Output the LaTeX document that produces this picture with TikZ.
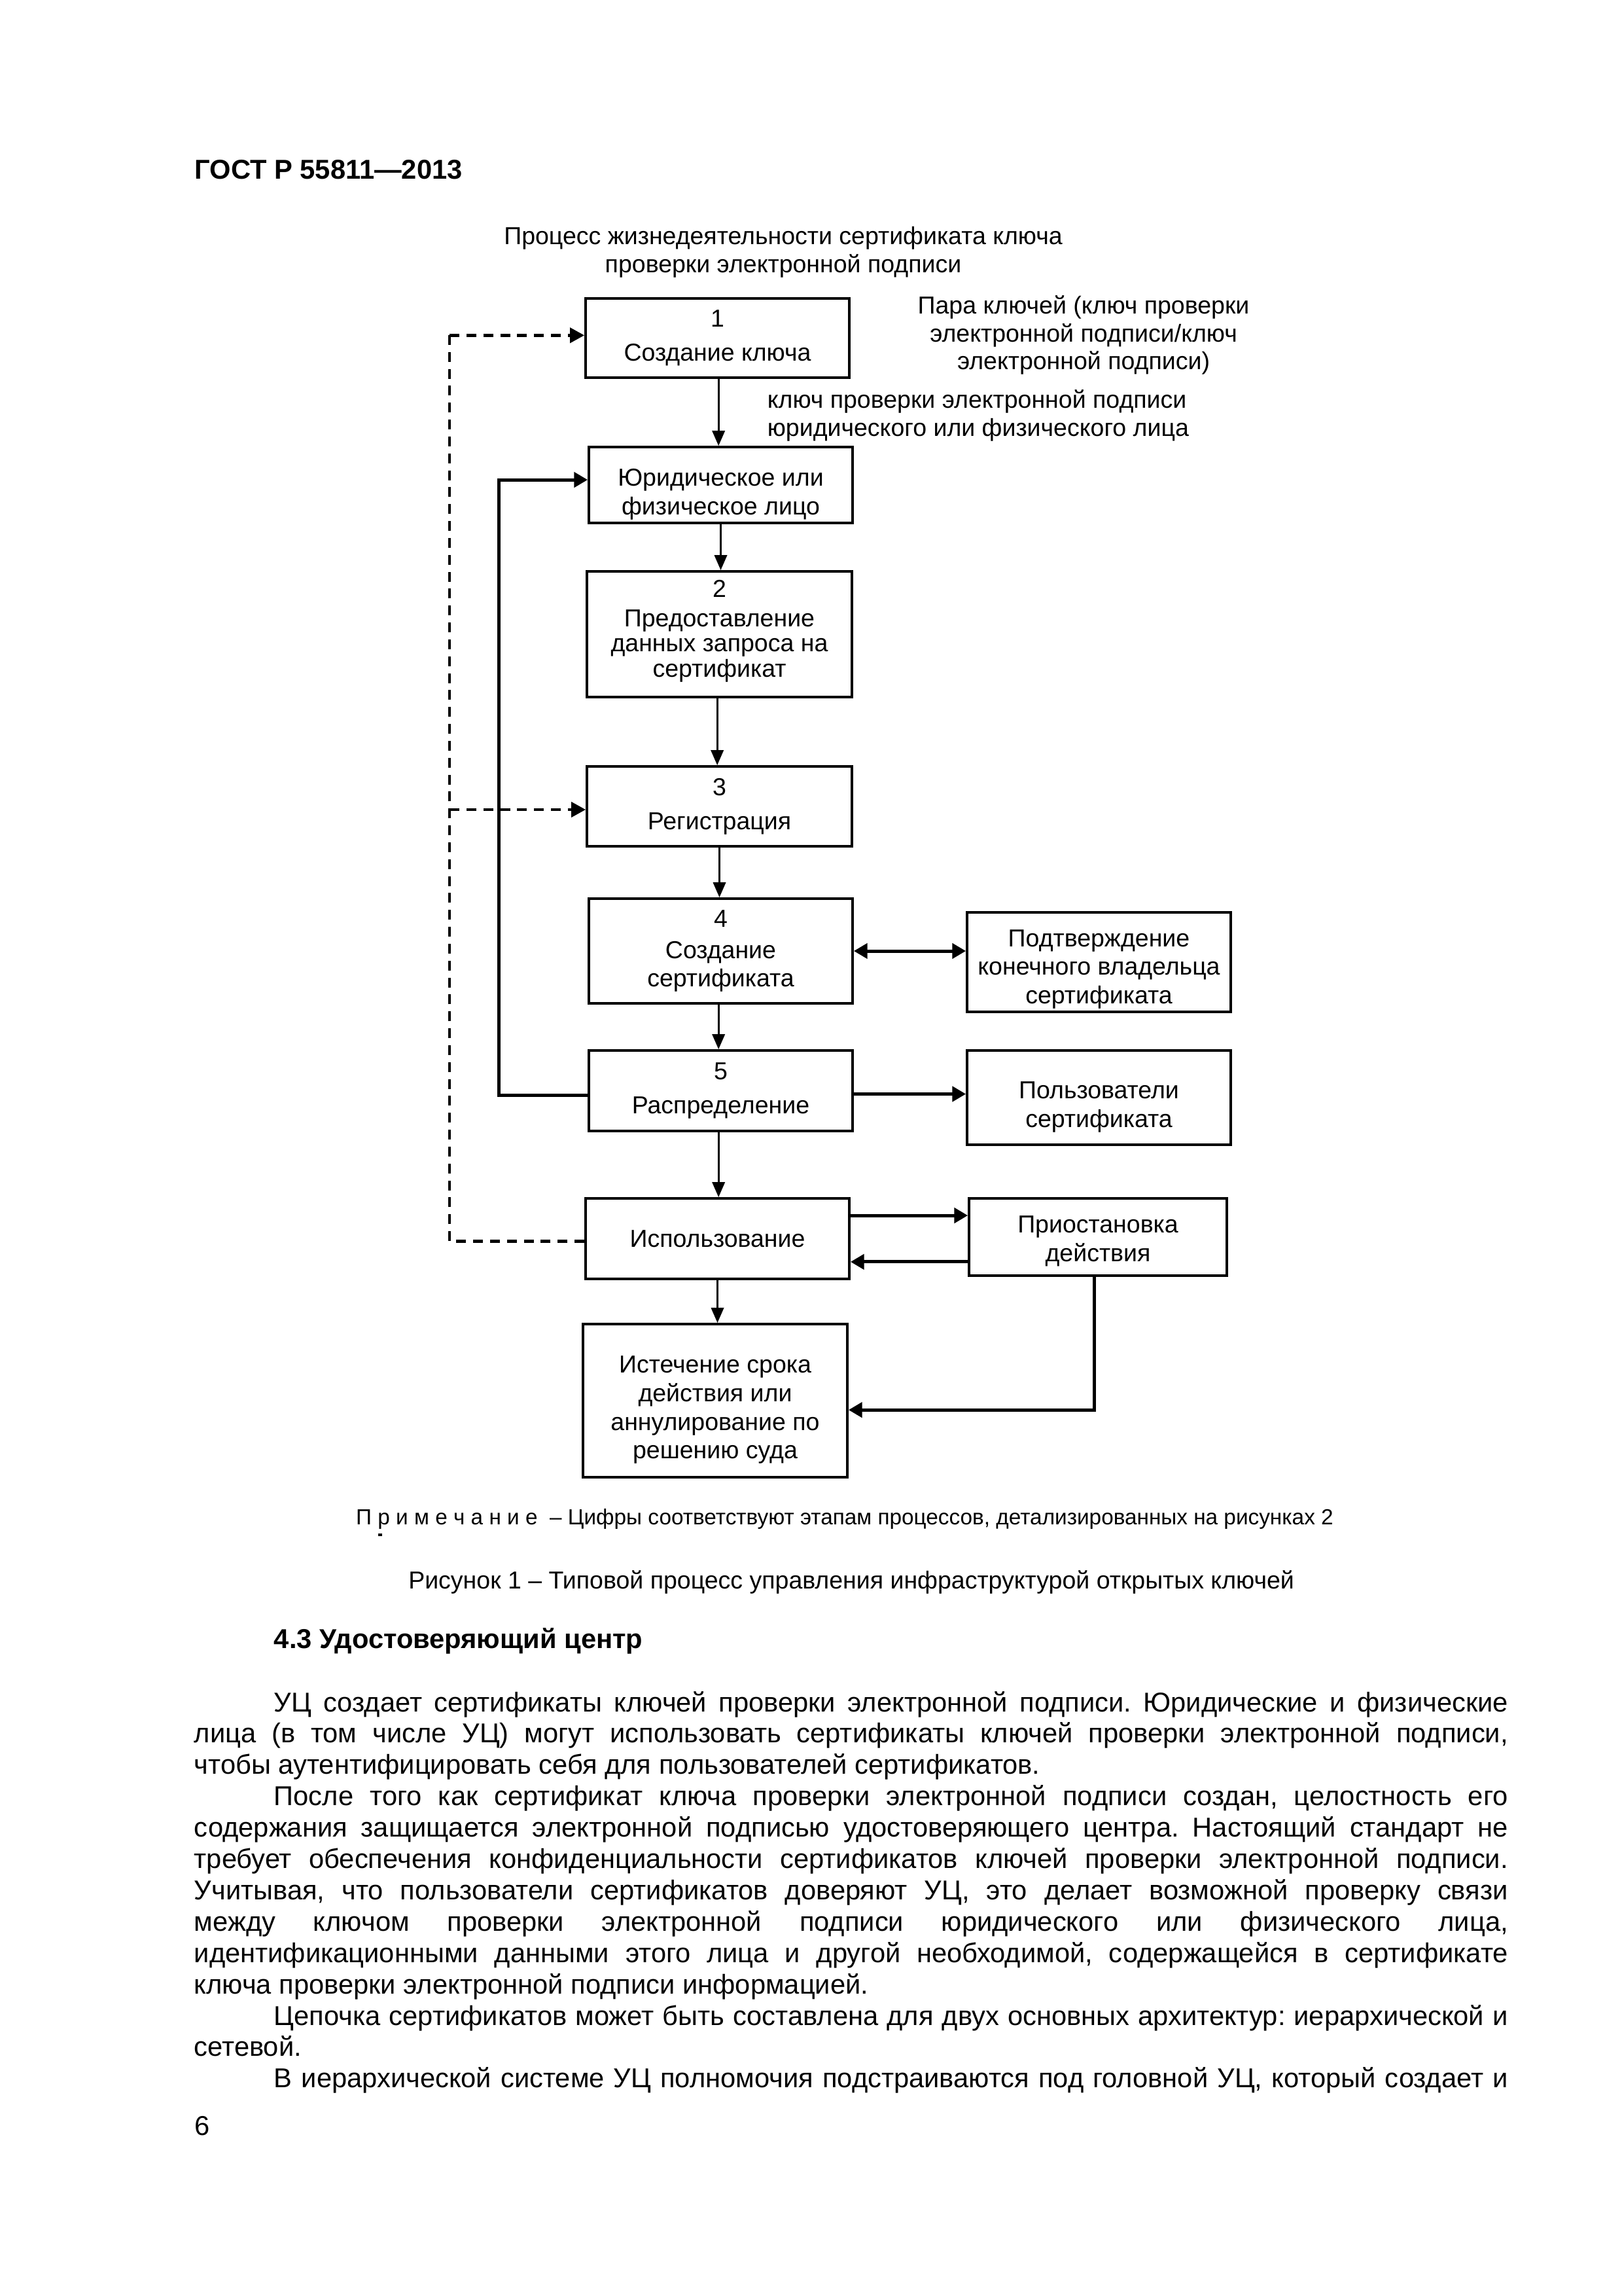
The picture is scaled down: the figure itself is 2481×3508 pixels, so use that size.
\documentclass[tikz,border=0pt]{standalone}
\usepackage{fontspec}
\setmainfont{Liberation Sans}
\usetikzlibrary{arrows.meta,calc}
\frenchspacing
\newcommand\PX{0.24pt}
\newcommand\fullline[1]{\makebox[481.9pt][s]{#1}}
\newcommand\indline[1]{\makebox[452.6pt][s]{#1}}
\newcommand\topstrut[1]{\rule{0pt}{#1}}
\begin{document}
\begin{tikzpicture}[x=0.24pt,y=-0.24pt,
  box/.style={draw, line width=0.9pt, align=center, inner sep=0pt, font=\fontsize{9}{10.5}\selectfont},
  lbl/.style={inner sep=0pt, font=\fontsize{9}{10.5}\selectfont},
  body/.style={inner sep=0pt, anchor=base west, font=\fontsize{10}{11.5}\selectfont},
  arr/.style={line width=0.7pt, -{Triangle[length=5.5pt,width=4.6pt]}},
  tarr/.style={line width=1.2pt, -{Triangle[length=5pt,width=5.5pt]}},
  dbl/.style={line width=1.2pt, {Triangle[length=5pt,width=5.5pt]}-{Triangle[length=5pt,width=5.5pt]}},
  darr/.style={line width=1.05pt, dash pattern=on 3.6pt off 2.6pt},
  dtip/.style={-{Triangle[length=5.3pt,width=5.5pt]}},
]
\useasboundingbox[fill=white] (0,0) rectangle (2481,3508);

% header
\node[inner sep=0pt, anchor=base west, font=\bfseries\fontsize{10}{12}\selectfont] (hdr) at (297,274) {ГОСТ Р 55811—2013};

% title of the diagram
\node[lbl, anchor=base] (t1) at (1197,374) {Процесс жизнедеятельности сертификата ключа};
\node[lbl, anchor=base] (t2) at (1197,417) {проверки электронной подписи};

% boxes
\node[box, minimum width=403*\PX, minimum height=121*\PX] (b1) at (1096.5,516.5) {1\\[2pt]Создание ключа};
\node[box, minimum width=403*\PX, minimum height=116*\PX] (yl) at (1101.5,741) {\topstrut{13pt}Юридическое или\\физическое лицо};
\node[box, minimum width=405*\PX, minimum height=192*\PX, font=\fontsize{9}{9.2}\selectfont] (b2) at (1099.5,969) {2\\[1.5pt]Предоставление\\данных запроса на\\сертификат\rule[-4.1pt]{0pt}{4.1pt}};
\node[box, minimum width=405*\PX, minimum height=122*\PX] (b3) at (1099.5,1232) {3\\[2pt]Регистрация};
\node[box, minimum width=403*\PX, minimum height=160*\PX] (b4) at (1101.5,1453) {4\\[1pt]Создание\\сертификата};
\node[box, minimum width=403*\PX, minimum height=152*\PX] (conf) at (1679.5,1470) {\topstrut{11.4pt}Подтверждение\\конечного владельца\\сертификата};
\node[box, minimum width=403*\PX, minimum height=123*\PX] (b5) at (1101.5,1666.5) {5\\[2pt]Распределение};
\node[box, minimum width=403*\PX, minimum height=144*\PX] (users) at (1679.5,1677) {\topstrut{13pt}Пользователи\\сертификата};
\node[box, minimum width=403*\PX, minimum height=123*\PX] (use) at (1096.5,1892.5) {Использование};
\node[box, minimum width=394*\PX, minimum height=118*\PX] (susp) at (1678,1890) {\topstrut{9.2pt}Приостановка\\действия};
\node[box, minimum width=404*\PX, minimum height=234*\PX] (exp) at (1093,2140) {\topstrut{13pt}Истечение срока\\действия или\\аннулирование по\\решению суда};

% side labels
\node[lbl, anchor=base] (p1) at (1656,480) {Пара ключей (ключ проверки};
\node[lbl, anchor=base] (p2) at (1656,523) {электронной подписи/ключ};
\node[lbl, anchor=base] (p3) at (1656,565) {электронной подписи)};
\node[lbl, anchor=base west] (k1) at (1172,624) {ключ проверки электронной подписи};
\node[lbl, anchor=base west] (k2) at (1172,667) {юридического или физического лица};

% main column arrows
\draw[arr] ([xshift=0.4pt]b1.south) -- ([xshift=0.4pt]b1.south |- yl.north);
\draw[arr] (yl.south) -- (yl.south |- b2.north);
\draw[arr] ([xshift=-0.8pt]b2.south) -- ([xshift=-0.8pt]b2.south |- b3.north);
\draw[arr] (b3.south) -- (b3.south |- b4.north);
\draw[arr] ([xshift=-0.8pt]b4.south) -- ([xshift=-0.8pt]b4.south |- b5.north);
\draw[arr] ([xshift=-0.8pt]b5.south) -- ([xshift=-0.8pt]b5.south |- use.north);
\draw[arr] (use.south) -- (use.south |- exp.north);

% side arrows
\coordinate (ueA) at ([yshift=8.5pt]use.east);
\coordinate (ueB) at ([yshift=-8.5pt]use.east);
\coordinate (b5e) at ([yshift=-1.2pt]b5.east);
\coordinate (exe) at ([yshift=-3.4pt]exp.east);
\coordinate (sus) at ([xshift=-1.4pt]susp.south);
\draw[dbl] (b4.east) -- (b4.east -| conf.west);
\draw[tarr] (b5e) -- (b5e -| users.west);
\draw[tarr] (ueA) -- (ueA -| susp.west);
\draw[tarr] (ueB -| susp.west) -- (ueB);
\draw[tarr] (sus) |- (exe);

% solid loop back to the legal/natural person
\coordinate (lx) at (762,0);
\coordinate (b5w) at ([yshift=-1.6pt]b5.west);
\coordinate (ylw) at ([yshift=1.9pt]yl.west);
\draw[tarr] (b5w) -| (lx |- ylw) -- (ylw);

% dashed loop
\coordinate (dx) at (687,0);
\coordinate (usw) at ([yshift=-1pt]use.west);
\coordinate (b1w) at ([yshift=1pt]b1.west);
\coordinate (b3w) at ([yshift=-1.2pt]b3.west);
\draw[darr] (usw) -| (dx |- b1w);
\draw[darr, dtip] (dx |- b1w) -- (b1w);
\draw[darr, dtip] (dx |- b3w) -- (b3w);

% note and caption
\node[inner sep=0pt, anchor=base, font=\fontsize{8}{9.6}\selectfont] (note) at (1291,2329) {П р и м е ч а н и е \ – Цифры соответствуют этапам процессов, детализированных на рисунках 2};
\fill (578,2343) rectangle (584,2347);
\node[lbl, anchor=base] (cap) at (1301,2427) {Рисунок 1 – Типовой процесс управления инфраструктурой открытых ключей};

% section text
\node[inner sep=0pt, anchor=base west, font=\bfseries\fontsize{10}{11.5}\selectfont] (sec) at (418,2518) {4.3 Удостоверяющий центр};

\node[body] (l1) at (418,2615) {\indline{УЦ создает сертификаты ключей проверки электронной подписи. Юридические и физические}};
\node[body] (l2) at (296,2662.9) {\fullline{лица (в том числе УЦ) могут использовать сертификаты ключей проверки электронной подписи,}};
\node[body] (l3) at (296,2710.8) {чтобы аутентифицировать себя для пользователей сертификатов.};
\node[body] (l4) at (418,2758.7) {\indline{После того как сертификат ключа проверки электронной подписи создан, целостность его}};
\node[body] (l5) at (296,2806.6) {\fullline{содержания защищается электронной подписью удостоверяющего центра. Настоящий стандарт не}};
\node[body] (l6) at (296,2854.5) {\fullline{требует обеспечения конфиденциальности сертификатов ключей проверки электронной подписи.}};
\node[body] (l7) at (296,2902.4) {\fullline{Учитывая, что пользователи сертификатов доверяют УЦ, это делает возможной проверку связи}};
\node[body] (l8) at (296,2950.3) {\fullline{между ключом проверки электронной подписи юридического или физического лица,}};
\node[body] (l9) at (296,2998.2) {\fullline{идентификационными данными этого лица и другой необходимой, содержащейся в сертификате}};
\node[body] (l10) at (296,3046.1) {ключа проверки электронной подписи информацией.};
\node[body] (l11) at (418,3094) {\indline{Цепочка сертификатов может быть составлена для двух основных архитектур: иерархической и}};
\node[body] (l12) at (296,3141.9) {сетевой.};
\node[body] (l13) at (418,3189.8) {\indline{В иерархической системе УЦ полномочия подстраиваются под головной УЦ, который создает и}};

\node[body] (pg) at (297,3262) {6};
\end{tikzpicture}
\end{document}
